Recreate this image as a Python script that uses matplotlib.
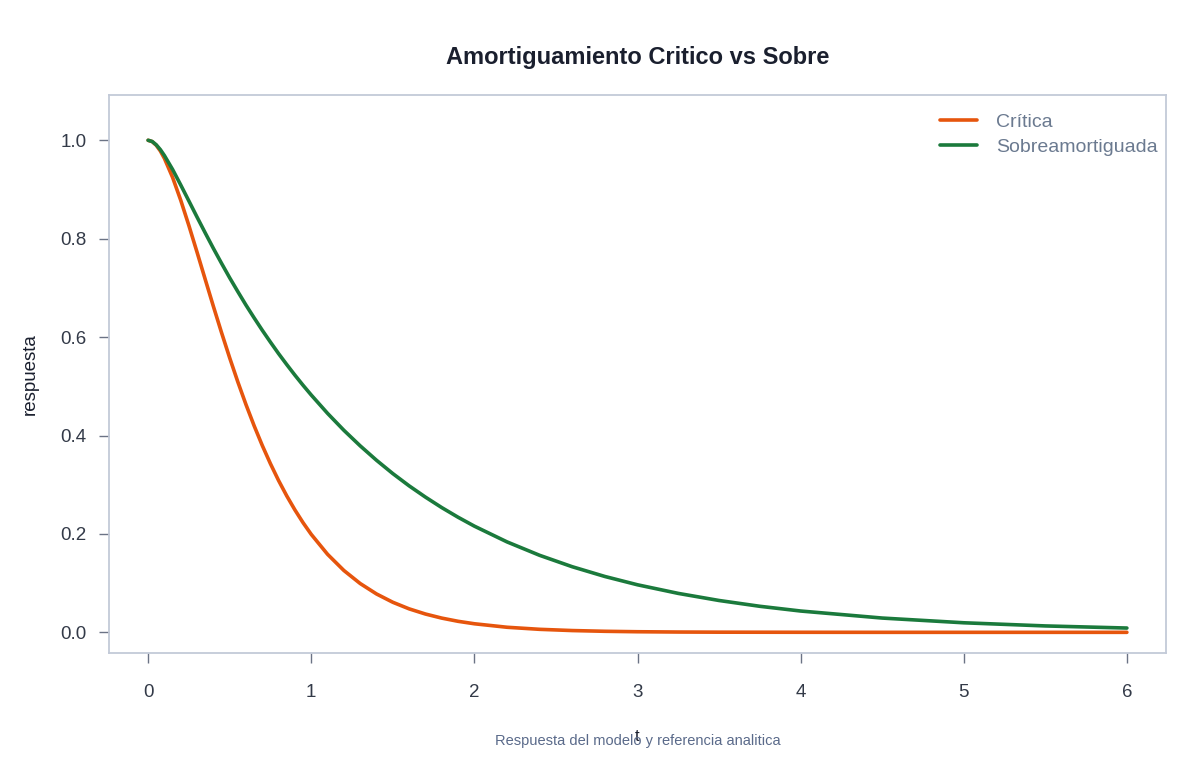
import matplotlib
matplotlib.use("Agg")
import matplotlib.pyplot as plt

plt.rcParams['font.family'] = ['Liberation Sans', 'DejaVu Sans']

# tiempo
t = [0, 0.025, 0.05, 0.075, 0.1, 0.15, 0.2, 0.25, 0.3, 0.35, 0.4, 0.45, 0.5,
     0.55, 0.6, 0.65, 0.7, 0.75, 0.8, 0.85, 0.9, 0.95, 1.0,
     1.1, 1.2, 1.3, 1.4, 1.5, 1.6, 1.7, 1.8, 1.9, 2.0,
     2.2, 2.4, 2.6, 2.8, 3.0, 3.25, 3.5, 3.75, 4.0, 4.5, 5.0, 5.5, 6.0]

critica = [1.0, 0.9973, 0.9898, 0.9782, 0.9631, 0.9246, 0.8781, 0.8266, 0.7725, 0.7174, 0.6626, 0.6092, 0.5578,
           0.5089, 0.4628, 0.4197, 0.3796, 0.3426, 0.3084, 0.2772, 0.2487, 0.2227, 0.1991,
           0.1586, 0.1257, 0.0992, 0.0780, 0.0611, 0.0477, 0.0372, 0.0289, 0.0224, 0.0174,
           0.0103, 0.0061, 0.0036, 0.0021, 0.0012, 0.0006, 0.0003, 0.0002, 0.0001, 0.0, 0.0, 0.0, 0.0]

sobre = [1.0, 0.9975, 0.9907, 0.9810, 0.9689, 0.9407, 0.9091, 0.8766, 0.8439, 0.8118, 0.7803, 0.7500, 0.7205,
         0.6924, 0.6650, 0.6390, 0.6138, 0.5897, 0.5663, 0.5441, 0.5226, 0.5020, 0.4823,
         0.4450, 0.4106, 0.3790, 0.3497, 0.3226, 0.2977, 0.2748, 0.2535, 0.2339, 0.2158,
         0.1838, 0.1565, 0.1333, 0.1135, 0.0966, 0.0791, 0.0647, 0.0529, 0.0433, 0.0290, 0.0194, 0.0130, 0.0087]

xticks = [0, 1, 2, 3, 4, 5, 6]
yticks = [0.0, 0.2, 0.4, 0.6, 0.8, 1.0]

fig = plt.figure(figsize=(12, 7.6), dpi=100)
ax = fig.add_axes([0.0908, 0.1408, 0.8809, 0.7342])

ax.plot(t, critica, color='#e6550d', linewidth=2.6, label='Crítica', solid_capstyle='round')
ax.plot(t, sobre, color='#1b7a3c', linewidth=2.6, label='Sobreamortiguada', solid_capstyle='round')

ax.set_xlim(-0.24, 6.24)
ax.set_ylim(-0.042, 1.092)
ax.set_xticks(xticks)
ax.set_xticklabels([str(x) for x in xticks])
ax.set_yticks(yticks)
ax.set_yticklabels(['%.1f' % y for y in yticks])

for s in ax.spines.values():
    s.set_color('#c3cad8')
    s.set_linewidth(1.3)

ax.tick_params(axis='both', direction='out', length=7, width=1, color='#6b7385',
               labelsize=13.5, labelcolor='#333a48', pad=9)
ax.tick_params(axis='x', pad=15)

ax.set_ylabel('respuesta', fontsize=13.5, color='#1a1f2e', labelpad=16)

ax.set_title('Amortiguamiento Critico vs Sobre', fontsize=17, fontweight='bold',
             color='#1a1f2e', pad=22)

leg = ax.legend(loc='upper right', bbox_to_anchor=(1.003, 0.9875), frameon=False, fontsize=14,
                handlelength=1.95, handletextpad=0.95, labelspacing=0.36, borderaxespad=0.2)
for txt in leg.get_texts():
    txt.set_color('#6b7a90')

fig.text(0.5313, 0.031, 't', ha='center', va='center', fontsize=12, color='#1a1f2e')
fig.text(0.5313, 0.025, 'Respuesta del modelo y referencia analitica', ha='center', va='center',
         fontsize=10.5, color='#5a6a8a')

fig.savefig('out.png', dpi=100)
